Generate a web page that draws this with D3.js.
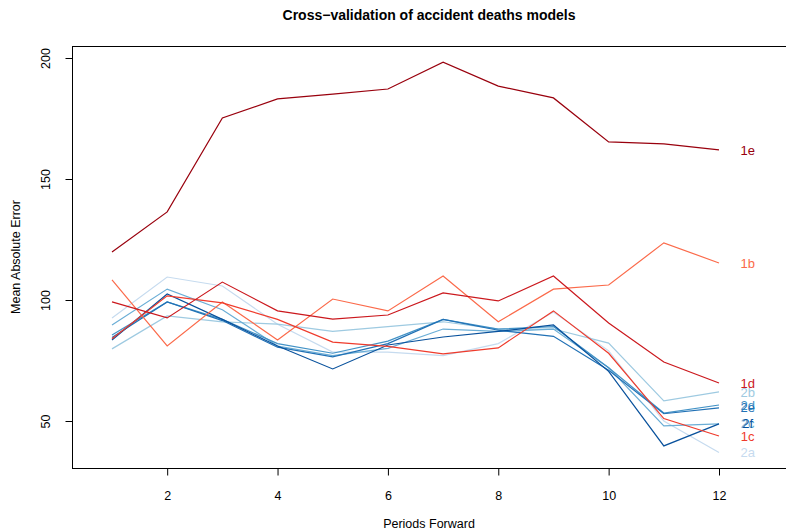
<!DOCTYPE html>
<html>
<head>
<meta charset="utf-8">
<script src="https://cdn.jsdelivr.net/npm/d3@7"></script>
<style>
  body { margin: 0; background: #fff; }
  text { font-family: "Liberation Sans", Arial, sans-serif; }
</style>
</head>
<body>
<div id="chart"></div>
<script>
// Periods forward
const periods = [1, 2, 3, 4, 5, 6, 7, 8, 9, 10, 11, 12];

// Mean absolute error per model
const s1b = [108.3, 81.0, 99.2, 83.5, 100.4, 95.5, 109.9, 91.0, 104.5, 106.2, 123.6, 115.3];
const s1c = [84.0, 101.7, 98.8, 92.0, 82.6, 80.8, 77.7, 80.2, 95.5, 78.0, 51.0, 43.8];
const s1d = [99.2, 92.6, 107.4, 95.5, 92.1, 93.8, 102.9, 99.6, 109.9, 90.5, 74.4, 65.7];
const s1e = [119.8, 136.4, 175.2, 183.1, 185.1, 187.2, 198.3, 188.4, 183.5, 165.3, 164.5, 162.0];
const s2a = [92.6, 109.5, 105.8, 90.0, 78.5, 78.5, 77.0, 82.0, 95.0, 79.0, 50.0, 37.0];
const s2b = [79.8, 93.4, 91.0, 90.0, 87.0, 89.0, 91.0, 88.0, 88.0, 82.2, 58.3, 62.0];
const s2c = [89.7, 104.5, 96.0, 81.0, 77.0, 80.0, 88.0, 87.0, 88.0, 72.0, 48.0, 48.8];
const s2d = [85.5, 99.2, 92.0, 82.0, 78.0, 83.0, 92.0, 88.0, 89.0, 72.0, 53.3, 56.6];
const s2e = [84.5, 99.2, 91.5, 80.5, 76.5, 82.0, 92.0, 87.5, 85.0, 71.0, 53.0, 55.4];
const s2f = [83.5, 102.5, 92.0, 81.0, 71.5, 81.4, 84.7, 87.0, 89.7, 70.5, 39.7, 48.8];

const seriesNames = ["2a", "2b", "2c", "2d", "2e", "2f", "1b", "1c", "1d", "1e"];
const seriesValues = [s2a, s2b, s2c, s2d, s2e, s2f, s1b, s1c, s1d, s1e];
const seriesColors = ["#c6dbef", "#9ecae1", "#6baed6", "#4292c6", "#2171b5", "#08519c",
                      "#fb6a4a", "#ef3b2c", "#cb181d", "#99000d"];

const xTicks = [2, 4, 6, 8, 10, 12];
const yTicks = [50, 100, 150, 200];

const width = 786, height = 530;
const box = { left: 72, right: 786, top: 46, bottom: 468 };

const svg = d3.select('#chart').append('svg')
    .attr('width', width)
    .attr('height', height);

const x = d3.scaleLinear().domain([1, 12]).range([112, 719]);
const y = d3.scaleLinear().domain([50, 200]).range([421, 58]);

// plot box
svg.append('rect')
    .attr('x', box.left + 0.5)
    .attr('y', box.top + 0.5)
    .attr('width', box.right - box.left)
    .attr('height', box.bottom - box.top)
    .attr('fill', 'none')
    .attr('stroke', '#000')
    .attr('stroke-width', 1);

// x axis
const xAxis = svg.append('g')
    .attr('transform', `translate(0,${box.bottom + 0.5})`)
    .call(d3.axisBottom(x).tickValues(xTicks).tickSize(7).tickPadding(16).tickFormat(d3.format('d')));
xAxis.select('.domain').remove();
xAxis.selectAll('text').attr('font-size', 12.5).attr('fill', '#000')
    .style('font-family', '"Liberation Sans", Arial, sans-serif');

// y axis with rotated labels
const yAxis = svg.append('g')
    .attr('transform', `translate(${box.left + 0.5},0)`)
    .call(d3.axisLeft(y).tickValues(yTicks).tickSize(7).tickFormat(d3.format('d')));
yAxis.select('.domain').remove();
yAxis.selectAll('text')
    .attr('font-size', 12.5).attr('fill', '#000')
    .attr('x', null).attr('dy', null)
    .attr('text-anchor', 'middle')
    .attr('transform', 'translate(-23,0) rotate(-90)')
    .style('font-family', '"Liberation Sans", Arial, sans-serif');

// lines
const line = d3.line()
    .x((d, i) => x(periods[i]))
    .y(d => y(d));

svg.append('g').selectAll('path')
    .data(seriesValues)
    .join('path')
    .attr('d', d => line(d))
    .attr('fill', 'none')
    .attr('stroke', (d, i) => seriesColors[i])
    .attr('stroke-width', 1.2);

// end labels (they overlap in the original too)
svg.append('g').selectAll('text')
    .data(seriesValues)
    .join('text')
    .attr('x', x(12.52))
    .attr('y', d => y(d[d.length - 1]))
    .attr('dy', '0.35em')
    .attr('text-anchor', 'middle')
    .attr('font-size', 13)
    .attr('fill', (d, i) => seriesColors[i])
    .text((d, i) => seriesNames[i]);

// title and axis labels
svg.append('text')
    .attr('x', (box.left + box.right) / 2)
    .attr('y', 20)
    .attr('text-anchor', 'middle')
    .attr('font-size', 14)
    .attr('font-weight', 'bold')
    .text('Cross\u2212validation of accident deaths models');

svg.append('text')
    .attr('x', (box.left + box.right) / 2)
    .attr('y', 528)
    .attr('text-anchor', 'middle')
    .attr('font-size', 12.5)
    .text('Periods Forward');

svg.append('text')
    .attr('transform', `translate(20,${(box.top + box.bottom) / 2}) rotate(-90)`)
    .attr('text-anchor', 'middle')
    .attr('font-size', 12.5)
    .text('Mean Absolute Error');
</script>
</body>
</html>
